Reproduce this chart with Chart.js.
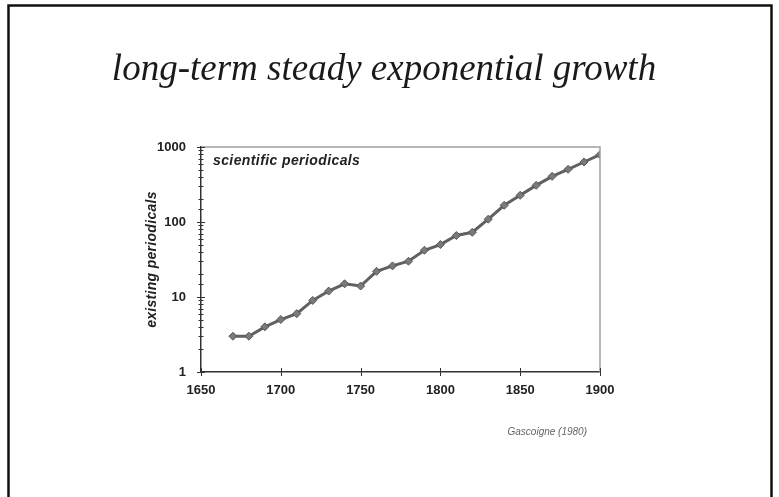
<!DOCTYPE html>
<html>
<head>
<meta charset="utf-8">
<script src="https://cdn.jsdelivr.net/npm/chart.js@4"></script>
<style>
  html, body { margin: 0; padding: 0; background: #fff; }
  #wrap { width: 779px; height: 497px; }
</style>
</head>
<body>
<div id="wrap"><canvas id="chart1" width="779" height="497"></canvas></div>
<script>
// data (log scale)
const years = [1670, 1680, 1690, 1700, 1710, 1720, 1730, 1740, 1750, 1760, 1770, 1780,
               1790, 1800, 1810, 1820, 1830, 1840, 1850, 1860, 1870, 1880, 1890, 1900];
const periodicals = [3, 3, 4, 5, 6, 9, 12, 15, 14, 22, 26, 30,
                     42, 50, 66, 73, 109, 167, 227, 308, 406, 504, 631, 790];
const yTicks = [1, 10, 100, 1000];
const xTicks = [1650, 1700, 1750, 1800, 1850, 1900];

const titleText = "long-term steady exponential growth";
const seriesNote = "scientific periodicals";
const sourceText = "Gascoigne (1980)";
const yTitle = "existing periodicals";

// frame, texts, crossing tick marks and top/right plot border
const decorations = {
    id: "decorations",
    beforeDraw(chart) {
        const ctx = chart.ctx;
        ctx.save();
        ctx.strokeStyle = "#111";
        ctx.lineWidth = 2.5;
        ctx.beginPath();
        ctx.moveTo(8.5, 497);
        ctx.lineTo(8.5, 5.5);
        ctx.lineTo(771.5, 5.5);
        ctx.lineTo(771.5, 497);
        ctx.stroke();
        ctx.restore();
    },
    afterDraw(chart) {
        const ctx = chart.ctx;
        const a = chart.chartArea;
        const ys = chart.scales.y;
        const xs = chart.scales.x;
        ctx.save();

        // top and right border of the plot
        ctx.strokeStyle = "#a0a0a0";
        ctx.lineWidth = 1.5;
        ctx.beginPath();
        ctx.moveTo(a.left, a.top);
        ctx.lineTo(a.right, a.top);
        ctx.lineTo(a.right, a.bottom);
        ctx.stroke();

        // tick marks across the axes
        ctx.strokeStyle = "#333";
        ctx.lineWidth = 1;
        ctx.beginPath();
        ys.ticks.forEach(t => {
            const py = Math.round(ys.getPixelForValue(t.value)) + 0.5;
            const len = yTicks.includes(t.value) ? 4 : 2.5;
            ctx.moveTo(a.left - len, py);
            ctx.lineTo(a.left + len, py);
        });
        xTicks.forEach(v => {
            const px = Math.round(xs.getPixelForValue(v)) + 0.5;
            ctx.moveTo(px, a.bottom - 4);
            ctx.lineTo(px, a.bottom + 4);
        });
        ctx.stroke();

        // title
        ctx.fillStyle = "#1a1a1a";
        ctx.font = "italic 37px 'Liberation Serif'";
        ctx.textAlign = "center";
        ctx.textBaseline = "alphabetic";
        ctx.fillText(titleText, 384, 80);

        // series note inside the plot
        ctx.fillStyle = "#222";
        ctx.font = "italic bold 14px 'Liberation Sans'";
        ctx.letterSpacing = "0.4px";
        ctx.textAlign = "left";
        ctx.textBaseline = "middle";
        ctx.fillText(seriesNote, 213, 161);

        // y axis title, centred on the plot height
        ctx.save();
        ctx.translate(152, (a.top + a.bottom) / 2);
        ctx.rotate(-Math.PI / 2);
        ctx.textAlign = "center";
        ctx.letterSpacing = "0.3px";
        ctx.fillText(yTitle, 0, 0);
        ctx.restore();

        // source
        ctx.letterSpacing = "0px";
        ctx.fillStyle = "#666";
        ctx.font = "italic 10px 'Liberation Sans'";
        ctx.textAlign = "right";
        ctx.fillText(sourceText, 587, 432);

        ctx.restore();
    }
};

const chart = document.getElementById("chart1");
new Chart(chart, {
    type: "line",
    data: {
        datasets: [
            {
                label: seriesNote,
                data: years.map((yr, i) => ({ x: yr, y: periodicals[i] })),
                borderColor: "#606060",
                borderWidth: 3,
                pointStyle: "rectRot",
                pointRadius: 4,
                pointBackgroundColor: "#7a7a7a",
                pointBorderColor: "#555",
                pointBorderWidth: 1,
                tension: 0
            }
        ]
    },
    options: {
        responsive: false,
        animation: false,
        layout: {
            padding: { left: 130, right: 179, top: 147, bottom: 95 }
        },
        plugins: {
            legend: { display: false },
            tooltip: { enabled: false }
        },
        scales: {
            x: {
                type: "linear",
                min: 1650,
                max: 1900,
                afterFit: (s) => { s.height = 30; },
                afterBuildTicks: (s) => { s.ticks = xTicks.map(v => ({ value: v })); },
                grid: { display: false, drawTicks: false },
                border: { display: true, color: "#333", width: 1.5 },
                ticks: {
                    autoSkip: false,
                    maxRotation: 0,
                    padding: 11,
                    color: "#222",
                    font: { family: "'Liberation Sans'", size: 13, weight: "bold" },
                    callback: (v) => String(v)
                }
            },
            y: {
                type: "logarithmic",
                min: 1,
                max: 1000,
                afterFit: (s) => { s.width = 71; },
                grid: { display: false, drawTicks: false },
                border: { display: true, color: "#333", width: 1.5 },
                ticks: {
                    autoSkip: false,
                    padding: 15,
                    color: "#222",
                    font: { family: "'Liberation Sans'", size: 13, weight: "bold" },
                    callback: (v) => yTicks.includes(v) ? String(v) : ""
                }
            }
        }
    },
    plugins: [decorations]
});
</script>
</body>
</html>
